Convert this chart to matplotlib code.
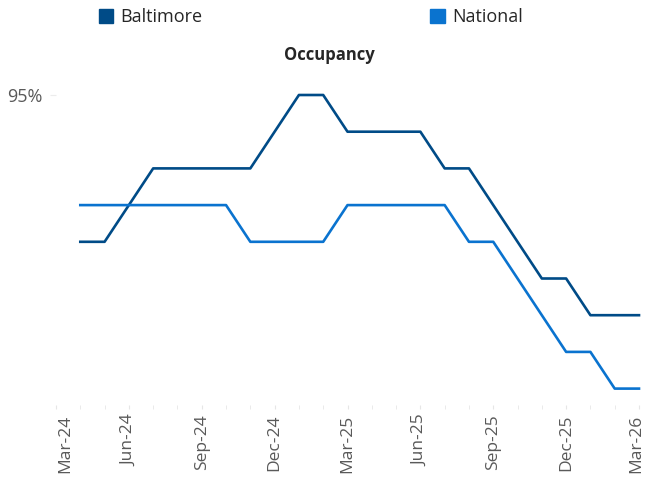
import matplotlib.pyplot as plt
import matplotlib.transforms as mtransforms
import numpy as np
from matplotlib.patches import Patch

plt.rcParams['font.family'] = ['Open Sans', 'DejaVu Sans']

# --- DATA ---
months = ['Mar-24', 'Apr-24', 'May-24', 'Jun-24', 'Jul-24', 'Aug-24', 'Sep-24',
          'Oct-24', 'Nov-24', 'Dec-24', 'Jan-25', 'Feb-25', 'Mar-25', 'Apr-25',
          'May-25', 'Jun-25', 'Jul-25', 'Aug-25', 'Sep-25', 'Oct-25', 'Nov-25',
          'Dec-25', 'Jan-26', 'Feb-26', 'Mar-26']
baltimore = [np.nan, 93.0, 93.0, 93.5, 94.0, 94.0, 94.0, 94.0, 94.0, 94.5, 95.0, 95.0,
             94.5, 94.5, 94.5, 94.5, 94.0, 94.0, 93.5, 93.0, 92.5, 92.5, 92.0, 92.0, 92.0]
national = [np.nan, 93.5, 93.5, 93.5, 93.5, 93.5, 93.5, 93.5, 93.0, 93.0, 93.0, 93.0,
            93.5, 93.5, 93.5, 93.5, 93.5, 93.0, 93.0, 92.5, 92.0, 91.5, 91.5, 91.0, 91.0]

BALT_COLOR = '#004B87'
NAT_COLOR = '#0A73CF'
GRAY = '#595959'

fig = plt.figure(figsize=(6.46, 4.8), dpi=100)
ax = fig.add_axes([56 / 646, 1 - 405 / 480, 583 / 646, 315 / 480])

x = np.arange(len(months))
ax.plot(x, baltimore, color=BALT_COLOR, lw=1.9, clip_on=False)
ax.plot(x, national, color=NAT_COLOR, lw=1.9, clip_on=False)

ax.set_xlim(0, len(months) - 1)
ax.set_ylim(95 - 310 / 73.4, 95 + 5 / 73.4)

for s in ax.spines.values():
    s.set_visible(False)

# x axis: small tick every month, label every quarter
ax.set_xticks(x, minor=True)
ax.set_xticks(x[::3])
ax.set_xticklabels(months[::3], rotation=90, color=GRAY, fontsize=12.5)
ax.tick_params(axis='x', which='both', length=3, color='#e6e6e6', pad=4)

# first and last labels sit a bit off their ticks in the original
labels = ax.get_xticklabels()
for lbl, dx in ((labels[0], 9), (labels[-1], -3)):
    off = mtransforms.ScaledTranslation(dx / 100, 0, fig.dpi_scale_trans)
    lbl.set_transform(lbl.get_transform() + off)

ax.set_yticks([95])
ax.set_yticklabels(['95%'], color=GRAY, fontsize=13)
ax.tick_params(axis='y', length=4, color='#ececec', pad=6)

fig.text(329 / 646, 1 - 55 / 480, 'Occupancy', ha='center', va='center',
         fontsize=12, fontweight='bold', color='#262626')

handles = [Patch(color=BALT_COLOR), Patch(color=NAT_COLOR)]
fig.legend(handles, ['Baltimore', 'National'], loc='center left',
           bbox_to_anchor=(99 / 646, 1 - 17 / 480), ncol=2, frameon=False,
           fontsize=13, handlelength=0.8, handleheight=0.8, handletextpad=0.4,
           columnspacing=12.6, labelcolor='#262626', borderaxespad=0, borderpad=0)

plt.savefig('out.png', dpi=100)
